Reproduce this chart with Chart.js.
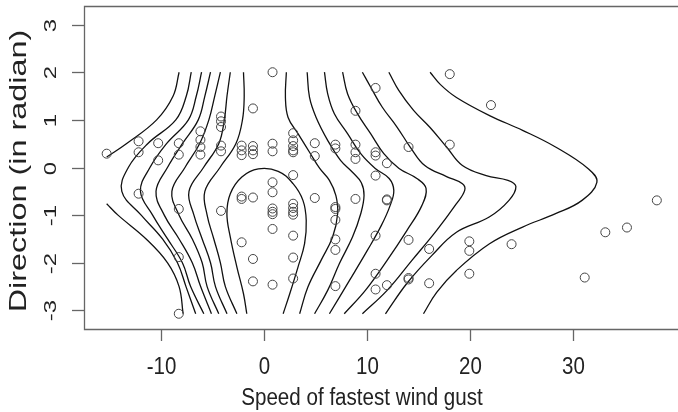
<!DOCTYPE html>
<html><head><meta charset="utf-8">
<script src="https://cdn.jsdelivr.net/npm/chart.js@4.4.1/dist/chart.umd.min.js"></script>
<style>html,body{margin:0;padding:0;background:#fff}canvas{display:block}</style>
</head><body>
<canvas id="c" width="678" height="412"></canvas>
<script>
const xTicks = [-10, 0, 10, 20, 30];
const yTicks = [-3, -2, -1, 0, 1, 2, 3];
const xTitle = "Speed of fastest wind gust";
const yTitle = "Direction (in radian)";

const speed = [-15.3,-12.2,-12.2,-12.2,-10.3,-10.3,-8.3,-8.3,-8.3,-8.3,-8.3,-6.2,-6.2,-6.2,-6.2,-4.2,-4.2,-4.2,-4.2,-4.2,-4.2,
 -2.2,-2.2,-2.2,-2.2,-2.2,-2.2,-1.1,-1.1,-1.1,-1.1,-1.1,-1.1,-1.1,0.8,0.8,0.8,0.8,0.8,0.8,0.8,0.8,0.8,0.8,
 2.8,2.8,2.8,2.8,2.8,2.8,2.8,2.8,2.8,2.8,2.8,2.8,2.8,4.9,4.9,4.9,6.9,6.9,6.9,6.9,6.9,6.9,6.9,6.9,
 8.85,8.85,8.85,8.85,8.85,10.8,10.8,10.8,10.8,10.8,10.8,10.8,11.9,11.9,11.9,11.9,14.0,14.0,14.0,14.0,16.0,16.0,
 18.0,18.0,19.9,19.9,19.9,22.0,24.0,31.1,33.1,35.2,38.1];
const direction = [0.29,0.55,0.32,-0.55,0.51,0.15,0.51,0.27,-0.87,-1.88,-3.07,0.76,0.58,0.43,0.27,1.07,0.97,0.85,0.46,0.34,-0.91,
 0.46,0.36,0.26,-0.61,-0.66,-1.57,1.24,0.45,0.36,0.28,-0.63,-1.92,-2.39,2.0,0.5,0.34,-0.31,-0.52,-0.86,-0.93,-0.98,-1.29,-2.46,
 0.72,0.57,0.45,0.36,0.32,-0.16,-0.76,-0.85,-0.93,-0.99,-1.43,-1.89,-2.33,0.51,0.24,-0.64,0.48,0.4,-0.83,-0.87,-1.1,-1.51,-1.73,-2.49,
 1.19,0.48,0.32,0.18,-0.66,1.67,0.32,0.25,-0.17,-1.43,-2.23,-2.56,0.09,-0.67,-0.69,-2.47,0.43,-1.52,-2.32,-2.35,-1.71,-2.43,
 1.96,0.48,-1.55,-1.75,-2.23,1.31,-1.61,-2.31,-1.36,-1.26,-0.69];

// contour lines (speed, direction)
const contourL1a = [[-8.27,2.0],[-8.85,1.5],[-10.45,1.0],[-13.39,0.5],[-15.3,0.22]];
const contourL1b = [[-15.3,-0.76],[-14.2,-1.0],[-11.47,-1.5],[-9.39,-2.0],[-8.27,-2.5],[-7.88,-3.07]];
const contourL2 = [[-7.09,2.0],[-7.57,1.5],[-8.59,1.0],[-11.32,0.5],[-13.2,0.0],[-13.83,-0.5],[-11.95,-1.0],[-9.88,-1.5],[-8.43,-2.0],[-7.6,-2.5],[-6.66,-3.07]];
const contourL3 = [[-6.09,2.0],[-6.6,1.5],[-7.37,1.0],[-9.49,0.5],[-11.1,0.0],[-12.02,-0.5],[-10.84,-1.0],[-9.39,-1.5],[-7.95,-2.0],[-7.15,-2.5],[-5.87,-3.07]];
const contourL4 = [[-5.22,2.0],[-5.77,1.5],[-6.41,1.0],[-7.95,0.5],[-9.4,0.0],[-10.51,-0.5],[-9.71,-1.0],[-8.27,-1.5],[-6.99,-2.0],[-6.18,-2.5],[-5.13,-3.07]];
const contourL5 = [[-4.26,2.0],[-4.81,1.5],[-5.38,1.0],[-6.28,0.5],[-7.7,0.0],[-8.97,-0.5],[-8.27,-1.0],[-6.99,-1.5],[-6.03,-2.0],[-5.55,-2.5],[-4.42,-3.07]];
const contourL6 = [[-3.3,2.0],[-3.62,1.5],[-3.88,1.0],[-4.42,0.5],[-5.9,0.0],[-7.31,-0.5],[-6.83,-1.0],[-6.03,-1.5],[-5.22,-2.0],[-4.74,-2.5],[-3.62,-3.07]];
const contourL7 = [[-2.02,2.0],[-1.95,1.5],[-2.12,1.0],[-2.76,0.5],[-4.3,0.0],[-5.77,-0.5],[-5.55,-1.0],[-4.9,-1.5],[-4.26,-2.0],[-3.78,-2.5],[-2.66,-3.07]];
const contourArch = [[-1.70,-3.07],[-2.02,-2.65],[-2.66,-2.09],[-3.3,-1.46],[-3.63,-0.97],[-3.3,-0.55],[-2.18,-0.2],[-0.58,-0.03],[1.35,-0.08],[2.79,-0.34],[3.75,-0.69],[4.07,-1.11],[3.91,-1.6],[3.27,-2.09],[2.47,-2.65],[1.83,-3.07]];
const contourR1 = [[2.14,2.0],[2.05,1.47],[2.31,1.05],[3.27,0.71],[4.42,0.31],[5.38,-0.02],[6.32,-0.27],[6.95,-0.59],[7.12,-0.97],[6.63,-1.46],[5.51,-1.95],[4.23,-2.51],[3.43,-3.07]];
const contourR2 = [[4.16,2.0],[4.39,1.47],[5.03,1.05],[6.15,0.57],[7.4,0.15],[8.56,-0.1],[9.42,-0.32],[9.68,-0.59],[9.36,-0.97],[8.56,-1.46],[7.28,-2.02],[6.15,-2.58],[4.88,-3.07]];
const contourR3 = [[5.84,2.0],[6.15,1.55],[6.8,1.13],[8.08,0.71],[9.36,0.29],[10.77,-0.02],[12.12,-0.23],[12.57,-0.48],[12.21,-0.8],[11.35,-1.22],[10.0,-1.74],[8.27,-2.37],[6.32,-3.07]];
const contourR4 = [[7.6,2.0],[8.08,1.55],[9.04,1.13],[10.32,0.71],[11.6,0.29],[13.08,-0.02],[14.81,-0.23],[15.7,-0.44],[15.29,-0.8],[13.85,-1.32],[11.92,-1.95],[9.81,-2.58],[7.76,-3.07]];
const contourR5 = [[9.52,2.0],[10.32,1.69],[11.44,1.27],[12.88,0.85],[14.16,0.43],[15.58,0.04],[17.69,-0.19],[19.23,-0.34],[19.45,-0.48],[18.65,-0.76],[16.73,-1.32],[14.33,-1.95],[11.92,-2.58],[9.52,-3.07]];
const contourR6 = [[12.09,2.0],[13.05,1.62],[14.49,1.2],[16.09,0.84],[17.69,0.43],[19.23,0.04],[21.54,-0.17],[23.65,-0.27],[24.42,-0.4],[23.75,-0.69],[21.83,-1.04],[18.65,-1.36],[16.25,-1.85],[13.85,-2.43],[11.76,-3.07]];
const contourR7 = [[16.09,2.0],[17.1,1.74],[18.65,1.47],[21.86,1.09],[25.07,0.78],[28.27,0.43],[31.47,-0.03],[32.28,-0.31],[30.84,-0.69],[28.27,-0.97],[25.07,-1.25],[21.86,-1.6],[18.65,-2.16],[16.73,-2.62],[15.45,-3.07]];
const contours = [contourL1a,contourL1b,contourL2,contourL3,contourL4,contourL5,contourL6,contourL7,contourArch,
  contourR1,contourR2,contourR3,contourR4,contourR5,contourR6,contourR7];

const FONT = '"Liberation Sans", Arial, sans-serif';
const datasets = [{
  label: 'points',
  data: speed.map((s,i)=>({x:s,y:direction[i]})),
  showLine:false, pointStyle:'circle', pointRadius:4.5, pointBorderWidth:1,
  pointBorderColor:'#444', pointBackgroundColor:'rgba(0,0,0,0)'
}];
contours.forEach((c,i)=>datasets.push({
  label:'contour'+i, data:c.map(p=>({x:p[0],y:p[1]})), showLine:true, pointRadius:0,
  borderColor:'#111', borderWidth:1.3, tension:0.4, fill:false
}));

// draw text with separate size along and across the reading direction
function stretchedText(ctx, txt, x, y, size, along, rot, align, base){
  ctx.save();
  ctx.translate(x, y);
  if (rot) ctx.rotate(-Math.PI/2);
  ctx.scale(along, 1);
  ctx.font = size + 'px ' + FONT;
  ctx.textAlign = align; ctx.textBaseline = base;
  ctx.fillText(txt, 0, 0);
  ctx.restore();
}
function tallText(ctx, txt, x, y, size, tall){
  ctx.save(); ctx.translate(x, y); ctx.scale(1, tall);
  ctx.font = size + 'px ' + FONT; ctx.textAlign='center'; ctx.textBaseline='alphabetic';
  ctx.fillText(txt, 0, 0); ctx.restore();
}

const axesPlugin = {
  id:'rAxes',
  afterDraw(chart){
    const ctx = chart.ctx, a = chart.chartArea, xs = chart.scales.x, ys = chart.scales.y;
    ctx.save();
    ctx.strokeStyle = '#666'; ctx.lineWidth = 1.3;
    ctx.beginPath();
    ctx.moveTo(chart.width + 5, a.top + 0.5);
    ctx.lineTo(a.left + 0.5, a.top + 0.5);
    ctx.lineTo(a.left + 0.5, a.bottom + 0.5);
    ctx.lineTo(chart.width + 5, a.bottom + 0.5);
    ctx.stroke();
    ctx.fillStyle = '#222';
    xTicks.forEach(v=>{
      const px = Math.round(xs.getPixelForValue(v))+0.5;
      ctx.beginPath(); ctx.moveTo(px, a.bottom); ctx.lineTo(px, a.bottom+12); ctx.stroke();
      tallText(ctx, String(v), px, a.bottom+45, 20.5, 1.2);
    });
    yTicks.forEach(v=>{
      const py = Math.round(ys.getPixelForValue(v))+0.5;
      ctx.beginPath(); ctx.moveTo(a.left, py); ctx.lineTo(a.left-12, py); ctx.stroke();
      stretchedText(ctx, String(v), a.left-28, py, 16.5, 1.45, true, 'center', 'alphabetic');
    });
    tallText(ctx, xTitle, 362, 405, 20.6, 1.2);
    stretchedText(ctx, yTitle, 26, 171, 24, 1.35, true, 'center', 'alphabetic');
    ctx.restore();
  }
};

new Chart(document.getElementById('c'), {
  type:'scatter',
  data:{datasets},
  options:{
    responsive:false, animation:false, events:[],
    layout:{padding:{left:0, right:0, top:6, bottom:0}},
    plugins:{legend:{display:false}, tooltip:{enabled:false}},
    scales:{
      x:{type:'linear', min:-17.5, max:39.62, grid:{display:false}, border:{display:false}, ticks:{display:false},
         afterFit(s){ s.height = 83; }},
      y:{type:'linear', min:-3.39, max:3.39, grid:{display:false}, border:{display:false}, ticks:{display:false},
         afterFit(s){ s.width = 84; }}
    }
  },
  plugins:[axesPlugin]
});
</script>
</body></html>
